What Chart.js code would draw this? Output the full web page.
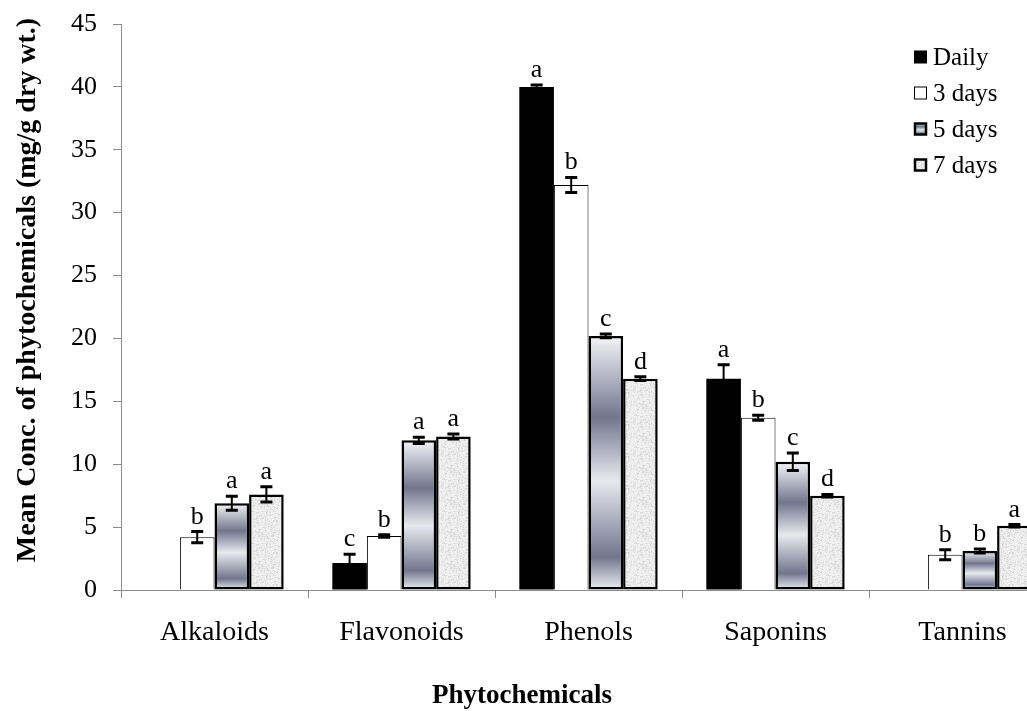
<!DOCTYPE html>
<html>
<head>
<meta charset="utf-8">
<script src="https://cdn.jsdelivr.net/npm/chart.js@4.4.1/dist/chart.umd.min.js"></script>
<style>
    html, body { margin: 0; padding: 0; background: #fff; overflow: hidden; }
    #wrap { width: 1027px; height: 711px; overflow: hidden; position: relative; }
    #chart { position: absolute; left: 0; top: 0; }
</style>
</head>
<body>
<div id="wrap"><canvas id="chart" width="1060" height="711"></canvas></div>
<script>
const categories = ["Alkaloids", "Flavonoids", "Phenols", "Saponins", "Tannins"];
const seriesNames = ["Daily", "3 days", "5 days", "7 days"];

const dailyValues = [0, 2.15, 40.0, 16.8, 0];
const threeDayValues = [4.2, 4.3, 32.2, 13.7, 2.8];
const fiveDayValues = [6.9, 11.9, 20.2, 10.2, 3.1];
const sevenDayValues = [7.6, 12.2, 16.8, 7.5, 5.1];

const dailyErrors = [0, 0.7, 0.15, 1.1, 0];
const threeDayErrors = [0.45, 0.1, 0.6, 0.2, 0.4];
const fiveDayErrors = [0.55, 0.25, 0.15, 0.7, 0.15];
const sevenDayErrors = [0.6, 0.2, 0.15, 0.1, 0.1];

const dailyLetters = ["", "c", "a", "a", ""];
const threeDayLetters = ["b", "b", "b", "b", "b"];
const fiveDayLetters = ["a", "a", "c", "c", "b"];
const sevenDayLetters = ["a", "a", "d", "d", "a"];

const yMin = 0, yMax = 45, yStep = 5;

const valueSets = [dailyValues, threeDayValues, fiveDayValues, sevenDayValues];
const errorSets = [dailyErrors, threeDayErrors, fiveDayErrors, sevenDayErrors];
const letterSets = [dailyLetters, threeDayLetters, fiveDayLetters, sevenDayLetters];

const serif = "'Liberation Serif', 'Times New Roman', serif";
const canvas = document.getElementById("chart");
const mainCtx = canvas.getContext("2d");

// speckled light grey texture for the 7-day bars (deterministic)
function makeSpeckle() {
    const c = document.createElement("canvas");
    c.width = 32; c.height = 32;
    const g = c.getContext("2d");
    g.fillStyle = "#efefef";
    g.fillRect(0, 0, 32, 32);
    for (let i = 0; i < 32; i++) {
        for (let j = 0; j < 32; j++) {
            const h = Math.abs(Math.sin(i * 12.9898 + j * 78.233) * 43758.5453) % 1;
            if (h < 0.3) {
                g.fillStyle = h < 0.1 ? "#d4d4d4" : "#e2e2e2";
                g.fillRect(i, j, 1, 1);
            }
        }
    }
    return mainCtx.createPattern(c, "repeat");
}
const speckle = makeSpeckle();

function addStripeStops(g) {
    g.addColorStop(0, "#f5f5f8");
    g.addColorStop(0.32, "#71768e");
    g.addColorStop(0.57, "#e8e9ee");
    g.addColorStop(0.87, "#71768e");
    g.addColorStop(1, "#eef0f4");
}

function stripeFill(context) {
    const chart = context.chart;
    if (!chart.chartArea || context.type !== "data") return "#a4a8b8";
    const y = chart.scales.y;
    const top = y.getPixelForValue(context.raw);
    const bottom = y.getPixelForValue(0);
    const g = chart.ctx.createLinearGradient(0, top, 0, bottom);
    addStripeStops(g);
    return g;
}

const extrasPlugin = {
    id: "extras",
    afterDatasetsDraw(chart) {
        const ctx = chart.ctx;
        const y = chart.scales.y;
        ctx.save();
        valueSets.forEach((vals, d) => {
            const meta = chart.getDatasetMeta(d);
            vals.forEach((v, i) => {
                if (!v) return;
                const x = meta.data[i].x;
                const e = errorSets[d][i];
                const yt = y.getPixelForValue(v + e);
                const yb = y.getPixelForValue(v - e);
                ctx.strokeStyle = "#000";
                ctx.lineWidth = 2;
                ctx.beginPath();
                ctx.moveTo(x, yt);
                ctx.lineTo(x, yb);
                ctx.stroke();
                ctx.lineWidth = 3;
                ctx.beginPath();
                ctx.moveTo(x - 6, yt);
                ctx.lineTo(x + 6, yt);
                ctx.moveTo(x - 6, yb);
                ctx.lineTo(x + 6, yb);
                ctx.stroke();

                const letter = letterSets[d][i];
                if (letter) {
                    ctx.fillStyle = "#000";
                    ctx.font = "26px " + serif;
                    ctx.textAlign = "center";
                    ctx.textBaseline = "alphabetic";
                    ctx.fillText(letter, x, yt - 8);
                }
            });
        });
        ctx.restore();
    },
    afterDraw(chart) {
        const ctx = chart.ctx;
        ctx.save();

        // legend
        const lx = 914, ly = 57, gap = 36, box = 13;
        seriesNames.forEach((name, k) => {
            const cy = ly + k * gap;
            const bx = lx, by = cy - box / 2;
            if (k === 0) {
                ctx.fillStyle = "#000";
                ctx.fillRect(bx, by, box, box);
            } else if (k === 1) {
                ctx.fillStyle = "#fff";
                ctx.fillRect(bx, by, box, box);
                ctx.strokeStyle = "#000";
                ctx.lineWidth = 1;
                ctx.strokeRect(bx + 0.5, by + 0.5, box - 1, box - 1);
            } else {
                if (k === 2) {
                    const g = ctx.createLinearGradient(0, by, 0, by + box);
                    addStripeStops(g);
                    ctx.fillStyle = g;
                } else {
                    ctx.fillStyle = speckle;
                }
                ctx.fillRect(bx, by, box, box);
                ctx.strokeStyle = "#000";
                ctx.lineWidth = 2.5;
                ctx.strokeRect(bx + 1, by + 1, box - 2, box - 2);
            }
            ctx.fillStyle = "#000";
            ctx.font = "25px " + serif;
            ctx.textAlign = "left";
            ctx.textBaseline = "middle";
            ctx.fillText(name, bx + box + 6, cy + 1);
        });

        // axis titles
        ctx.fillStyle = "#000";
        ctx.font = "bold 27px " + serif;
        ctx.textAlign = "center";
        ctx.textBaseline = "alphabetic";
        ctx.fillText("Phytochemicals", 522, 703);

        ctx.font = "bold 28px " + serif;
        ctx.textBaseline = "middle";
        ctx.translate(28, 290);
        ctx.rotate(-Math.PI / 2);
        ctx.fillText("Mean Conc. of phytochemicals (mg/g dry wt.)", 0, 0);
        ctx.restore();
    }
};

new Chart(canvas, {
    type: "bar",
    data: {
        labels: categories,
        datasets: [
            {
                label: seriesNames[0],
                data: dailyValues,
                backgroundColor: "#000",
                borderWidth: 0
            },
            {
                label: seriesNames[1],
                data: threeDayValues,
                backgroundColor: "#fff",
                borderColor: "#000",
                borderWidth: 1
            },
            {
                label: seriesNames[2],
                data: fiveDayValues,
                backgroundColor: stripeFill,
                borderColor: "#000",
                borderWidth: 2.5,
                borderSkipped: false
            },
            {
                label: seriesNames[3],
                data: sevenDayValues,
                backgroundColor: speckle,
                borderColor: "#000",
                borderWidth: 2.5,
                borderSkipped: false
            }
        ]
    },
    options: {
        responsive: false,
        animation: false,
        layout: { padding: { top: 24, right: 4, left: 0, bottom: 0 } },
        datasets: {
            bar: { barPercentage: 1, categoryPercentage: 0.74 }
        },
        plugins: {
            legend: { display: false },
            tooltip: { enabled: false }
        },
        scales: {
            x: {
                grid: {
                    display: true,
                    drawOnChartArea: false,
                    offset: true,
                    tickLength: 8,
                    color: "#8c8c8c"
                },
                border: { color: "#8c8c8c", width: 1 },
                ticks: {
                    color: "#000",
                    font: { family: serif, size: 28 },
                    padding: 18,
                    maxRotation: 0
                },
                afterFit(scale) {
                    scale.height = 121;
                    scale.paddingLeft = 0;
                    scale.paddingRight = 0;
                }
            },
            y: {
                min: yMin,
                max: yMax,
                ticks: {
                    stepSize: yStep,
                    color: "#000",
                    font: { family: serif, size: 26 },
                    padding: 16
                },
                grid: {
                    display: true,
                    drawOnChartArea: false,
                    tickLength: 8,
                    color: "#8c8c8c"
                },
                border: { color: "#8c8c8c", width: 1 },
                afterFit(scale) {
                    scale.width = 121;
                    scale.paddingTop = 0;
                    scale.paddingBottom = 0;
                }
            }
        }
    },
    plugins: [extrasPlugin]
});
</script>
</body>
</html>
